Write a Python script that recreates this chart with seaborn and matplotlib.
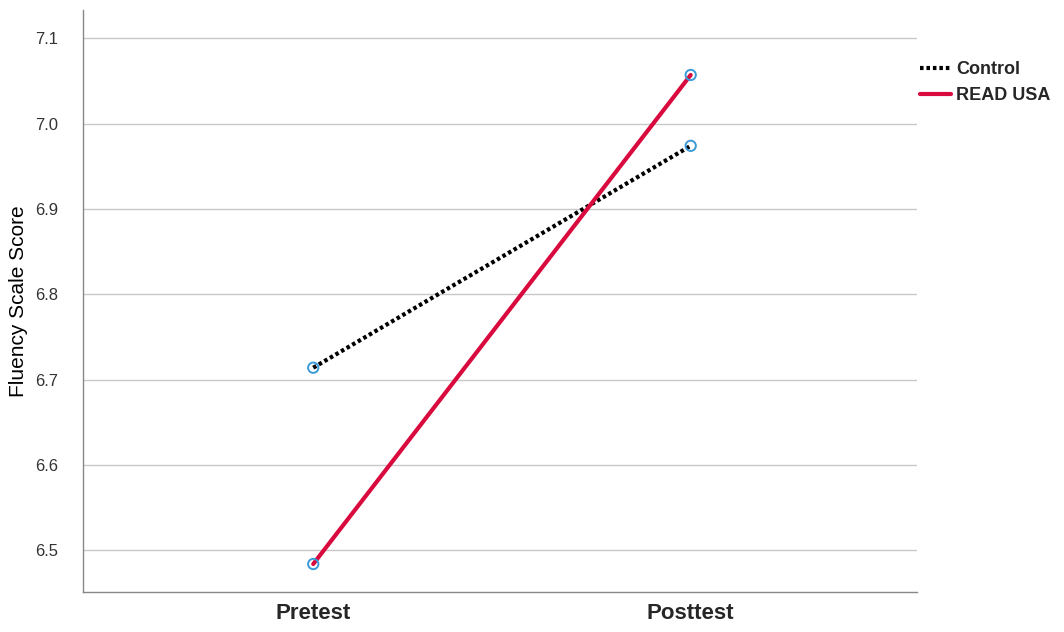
import numpy as np
import matplotlib.pyplot as plt
import pandas as pd
import seaborn as sns

# values
times = ["Pretest", "Posttest"]
groups = ["Control", "READ USA"]
control = [6.714, 6.974]
read_usa = [6.484, 7.057]

df = pd.DataFrame({
    "time": times * 2,
    "group": [groups[0]] * 2 + [groups[1]] * 2,
    "score": control + read_usa,
})

sns.set_style("white")
plt.rcParams['font.family'] = ['Arial', 'Liberation Sans', 'DejaVu Sans']

fig = plt.figure(figsize=(10.64, 6.32), dpi=100)
ax = fig.add_axes([0.078, 0.063, 0.784, 0.921])

pal = {"Control": "black", "READ USA": "#d90b3e"}
sns.lineplot(data=df, x="time", y="score", hue="group", style="group",
             palette=pal, dashes={"Control": (0.85, 0.7), "READ USA": ""},
             linewidth=3.0, ax=ax, sort=False)
sns.scatterplot(data=df, x="time", y="score", ax=ax, s=55, marker="o",
                facecolor="none", edgecolor="#3b9ad8", linewidth=1.4,
                legend=False, zorder=5)

ax.set_ylim(6.451, 7.133)
ax.set_xlim(-0.61, 1.60)
ax.set_yticks([6.5, 6.6, 6.7, 6.8, 6.9, 7.0, 7.1])
ax.set_yticklabels(["6.5", "6.6", "6.7", "6.8", "6.9", "7.0", "7.1"])
ax.yaxis.grid(True, color="#c8c8c8", linewidth=1.0)
ax.set_axisbelow(True)
ax.tick_params(axis="y", length=0, labelsize=12, labelcolor="#333333", pad=18)
ax.tick_params(axis="x", length=0, labelsize=16, pad=8)
for lbl in ax.get_xticklabels():
    lbl.set_fontweight("bold")
ax.set_xlabel("")
ax.set_ylabel("Fluency Scale Score", fontsize=15, color="black")
ax.yaxis.set_label_coords(-0.066, 0.5)

for side in ["top", "right"]:
    ax.spines[side].set_visible(False)
for side in ["left", "bottom"]:
    ax.spines[side].set_color("#888888")
    ax.spines[side].set_linewidth(1.0)

leg = ax.legend(loc="upper left", bbox_to_anchor=(0.995, 0.925), frameon=False,
                handlelength=1.7, handletextpad=0.3, labelspacing=0.5,
                borderaxespad=0, prop={"weight": "bold", "size": 13})
for line in leg.get_lines():
    line.set_linewidth(3.0)

fig.savefig("out.png", dpi=100)
